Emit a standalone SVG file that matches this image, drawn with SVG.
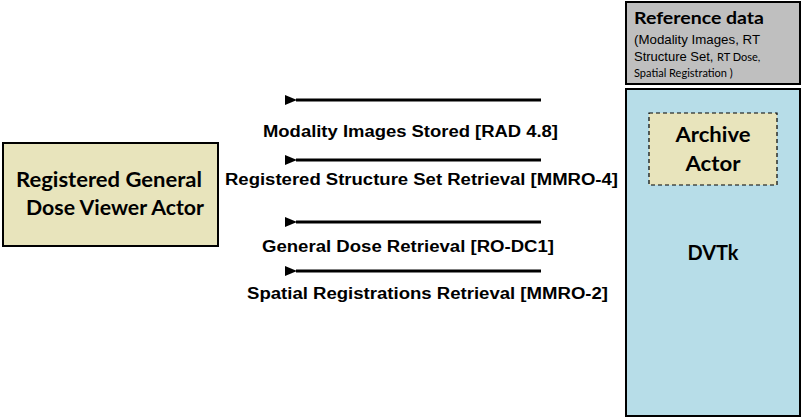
<svg xmlns="http://www.w3.org/2000/svg" width="802" height="418" viewBox="0 0 802 418">
<style>
.box{stroke:#000;stroke-width:2}
.t{font-family:Lato,"Open Sans","Liberation Sans",sans-serif;font-weight:bold;fill:#000}
.lbl{font-family:"Liberation Sans",Arial,sans-serif;font-weight:bold;font-size:16px;fill:#000}
.sm{font-family:"Liberation Sans",Arial,sans-serif;font-size:13px;fill:#000}
.sm2{font-family:Lato,"Open Sans",sans-serif;font-size:11px;fill:#000}
.arr{stroke:#000;stroke-width:3;fill:none;marker-end:url(#ah)}
</style>
<defs>
<marker id="ah" markerWidth="12" markerHeight="10" refX="1" refY="5" orient="auto" markerUnits="userSpaceOnUse" viewBox="0 0 12 10">
<path d="M12,0 L0,5 L12,10 Z" fill="#000"/>
</marker>
</defs>
<rect width="802" height="418" fill="#fff"/>
<g id="reference-data">
<rect class="box" x="626" y="2" width="174" height="82" fill="#bfbfbf"/>
<text class="t" x="634" y="24" font-size="17" textLength="130" lengthAdjust="spacingAndGlyphs">Reference data</text>
<text class="sm" x="634" y="44" textLength="126" lengthAdjust="spacingAndGlyphs">(Modality Images, RT</text>
<text class="sm" x="634" y="61">Structure Set, <tspan class="sm2">RT Dose,</tspan></text>
<text class="sm2" x="634" y="77">Spatial Registration )</text>
</g>
<g id="dvtk">
<rect class="box" x="626" y="89" width="174" height="327" fill="#b7dde8"/>
<text class="t" x="713" y="260" font-size="21" text-anchor="middle" textLength="51" lengthAdjust="spacingAndGlyphs">DVTk</text>
</g>
<g id="archive-actor">
<rect x="649" y="113" width="128" height="72" fill="#e8e4bc" stroke="#000" stroke-width="1.2" stroke-dasharray="4,3"/>
<text class="t" x="713" y="142" font-size="21" text-anchor="middle" textLength="75" lengthAdjust="spacingAndGlyphs">Archive</text>
<text class="t" x="713" y="171" font-size="21" text-anchor="middle" textLength="55" lengthAdjust="spacingAndGlyphs">Actor</text>
</g>
<g id="viewer-actor">
<rect class="box" x="3" y="143" width="215" height="103" fill="#e8e4bc"/>
<text class="t" x="109" y="187" font-size="21" text-anchor="middle" textLength="186" lengthAdjust="spacingAndGlyphs">Registered General</text>
<text class="t" x="115" y="215" font-size="21" text-anchor="middle" textLength="178" lengthAdjust="spacingAndGlyphs">Dose Viewer Actor</text>
</g>
<g id="connectors">
<line class="arr" x1="541" y1="100" x2="296" y2="100"/>
<line class="arr" x1="541" y1="160" x2="296" y2="160"/>
<line class="arr" x1="541" y1="222" x2="296" y2="222"/>
<line class="arr" x1="541" y1="271" x2="296" y2="271"/>
<text class="lbl" x="263" y="137" textLength="295" lengthAdjust="spacingAndGlyphs">Modality Images Stored [RAD 4.8]</text>
<text class="lbl" x="225" y="185" textLength="393" lengthAdjust="spacingAndGlyphs">Registered Structure Set Retrieval [MMRO-4]</text>
<text class="lbl" x="262" y="252" textLength="292" lengthAdjust="spacingAndGlyphs">General Dose Retrieval [RO-DC1]</text>
<text class="lbl" x="247" y="299" textLength="361" lengthAdjust="spacingAndGlyphs">Spatial Registrations Retrieval [MMRO-2]</text>
</g>
</svg>
